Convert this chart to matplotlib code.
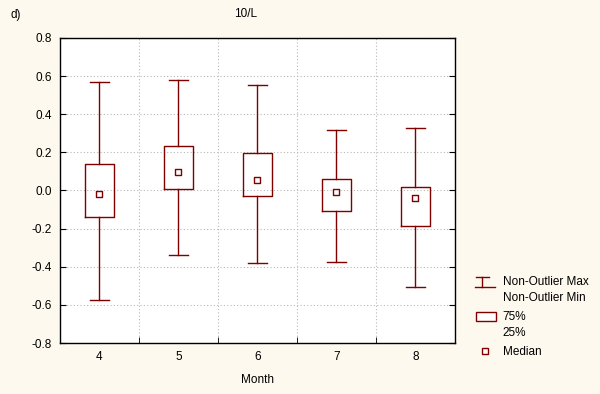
import matplotlib
matplotlib.use("Agg")
import matplotlib.pyplot as plt
from matplotlib.lines import Line2D
from matplotlib.patches import Rectangle

plt.rcParams['font.family'] = ['Liberation Sans', 'DejaVu Sans']
plt.rcParams['font.size'] = 8.5
plt.rcParams['axes.unicode_minus'] = False

# data
months = ['4', '5', '6', '7', '8']
med = [-0.018, 0.097, 0.055, -0.008, -0.039]
q1 = [-0.139, 0.008, -0.029, -0.108, -0.186]
q3 = [0.139, 0.233, 0.197, 0.060, 0.018]
whislo = [-0.574, -0.338, -0.380, -0.375, -0.506]
whishi = [0.569, 0.580, 0.553, 0.317, 0.328]

dark = '#800000'
bg = '#fef9ee'

fig = plt.figure(figsize=(6, 3.94), dpi=100, facecolor=bg)
ax = fig.add_axes([0.1, 0.1294, 0.6583, 0.7742])
ax.set_facecolor('white')

stats = []
for i in range(len(months)):
    stats.append(dict(med=med[i], q1=q1[i], q3=q3[i], whislo=whislo[i],
                      whishi=whishi[i], fliers=[], label=months[i]))

pos = list(range(1, len(months) + 1))
ax.bxp(stats, positions=pos, widths=0.37, capwidths=0.25, showfliers=False,
       boxprops=dict(color=dark, lw=1.0),
       whiskerprops=dict(color=dark, lw=1.0),
       capprops=dict(color=dark, lw=1.0),
       medianprops=dict(visible=False), zorder=3)
ax.scatter(pos, med, marker='s', s=16, facecolor='white', edgecolor=dark,
           linewidth=1.0, zorder=4)

ax.set_xlim(0.5, len(months) + 0.5)
ax.set_ylim(-0.8, 0.8)
ax.set_yticks([-0.8, -0.6, -0.4, -0.2, 0.0, 0.2, 0.4, 0.6, 0.8])
ax.set_yticklabels(['%.1f' % v for v in ax.get_yticks()])
ax.set_xticks(pos)
ax.set_xticklabels(months)
ax.set_xticks([p + 0.5 for p in pos[:-1]], minor=True)
ax.tick_params(axis='x', which='major', length=0, pad=6)
ax.tick_params(axis='x', which='minor', direction='in', length=4, top=False)
ax.tick_params(axis='y', direction='in', length=4, right=True, pad=6)
ax.grid(True, axis='y', which='major', color='#b8b8b8', linestyle=(0, (1, 2)), lw=0.8)
ax.grid(True, axis='x', which='minor', color='#b8b8b8', linestyle=(0, (1, 2)), lw=0.8)
ax.set_axisbelow(True)
for s in ax.spines.values():
    s.set_linewidth(1.0)
ax.set_xlabel('Month', labelpad=8)

fig.text(0.41, 0.965, '10/L', ha='center', va='center')
fig.text(0.018, 0.962, 'd)', ha='left', va='center')

# legend drawn by hand
tf = fig.transFigure
fig.add_artist(Line2D([0.793, 0.815], [0.297, 0.297], color=dark, lw=1.0, transform=tf))
fig.add_artist(Line2D([0.804, 0.804], [0.297, 0.272], color=dark, lw=1.0, transform=tf))
fig.add_artist(Line2D([0.791, 0.825], [0.272, 0.272], color=dark, lw=1.0, transform=tf))
fig.text(0.838, 0.284, 'Non-Outlier Max', va='center')
fig.text(0.838, 0.243, 'Non-Outlier Min', va='center')
fig.add_artist(Rectangle((0.793, 0.185), 0.033, 0.023, facecolor='white', edgecolor=dark,
                         lw=1.0, transform=tf))
fig.text(0.838, 0.196, '75%', va='center')
fig.text(0.838, 0.155, '25%', va='center')
fig.add_artist(Line2D([0.8075], [0.110], marker='s', markersize=4, markerfacecolor='white',
                      markeredgecolor=dark, lw=0, transform=tf))
fig.text(0.838, 0.106, 'Median', va='center')

fig.savefig('out.png', dpi=100, facecolor=bg)
